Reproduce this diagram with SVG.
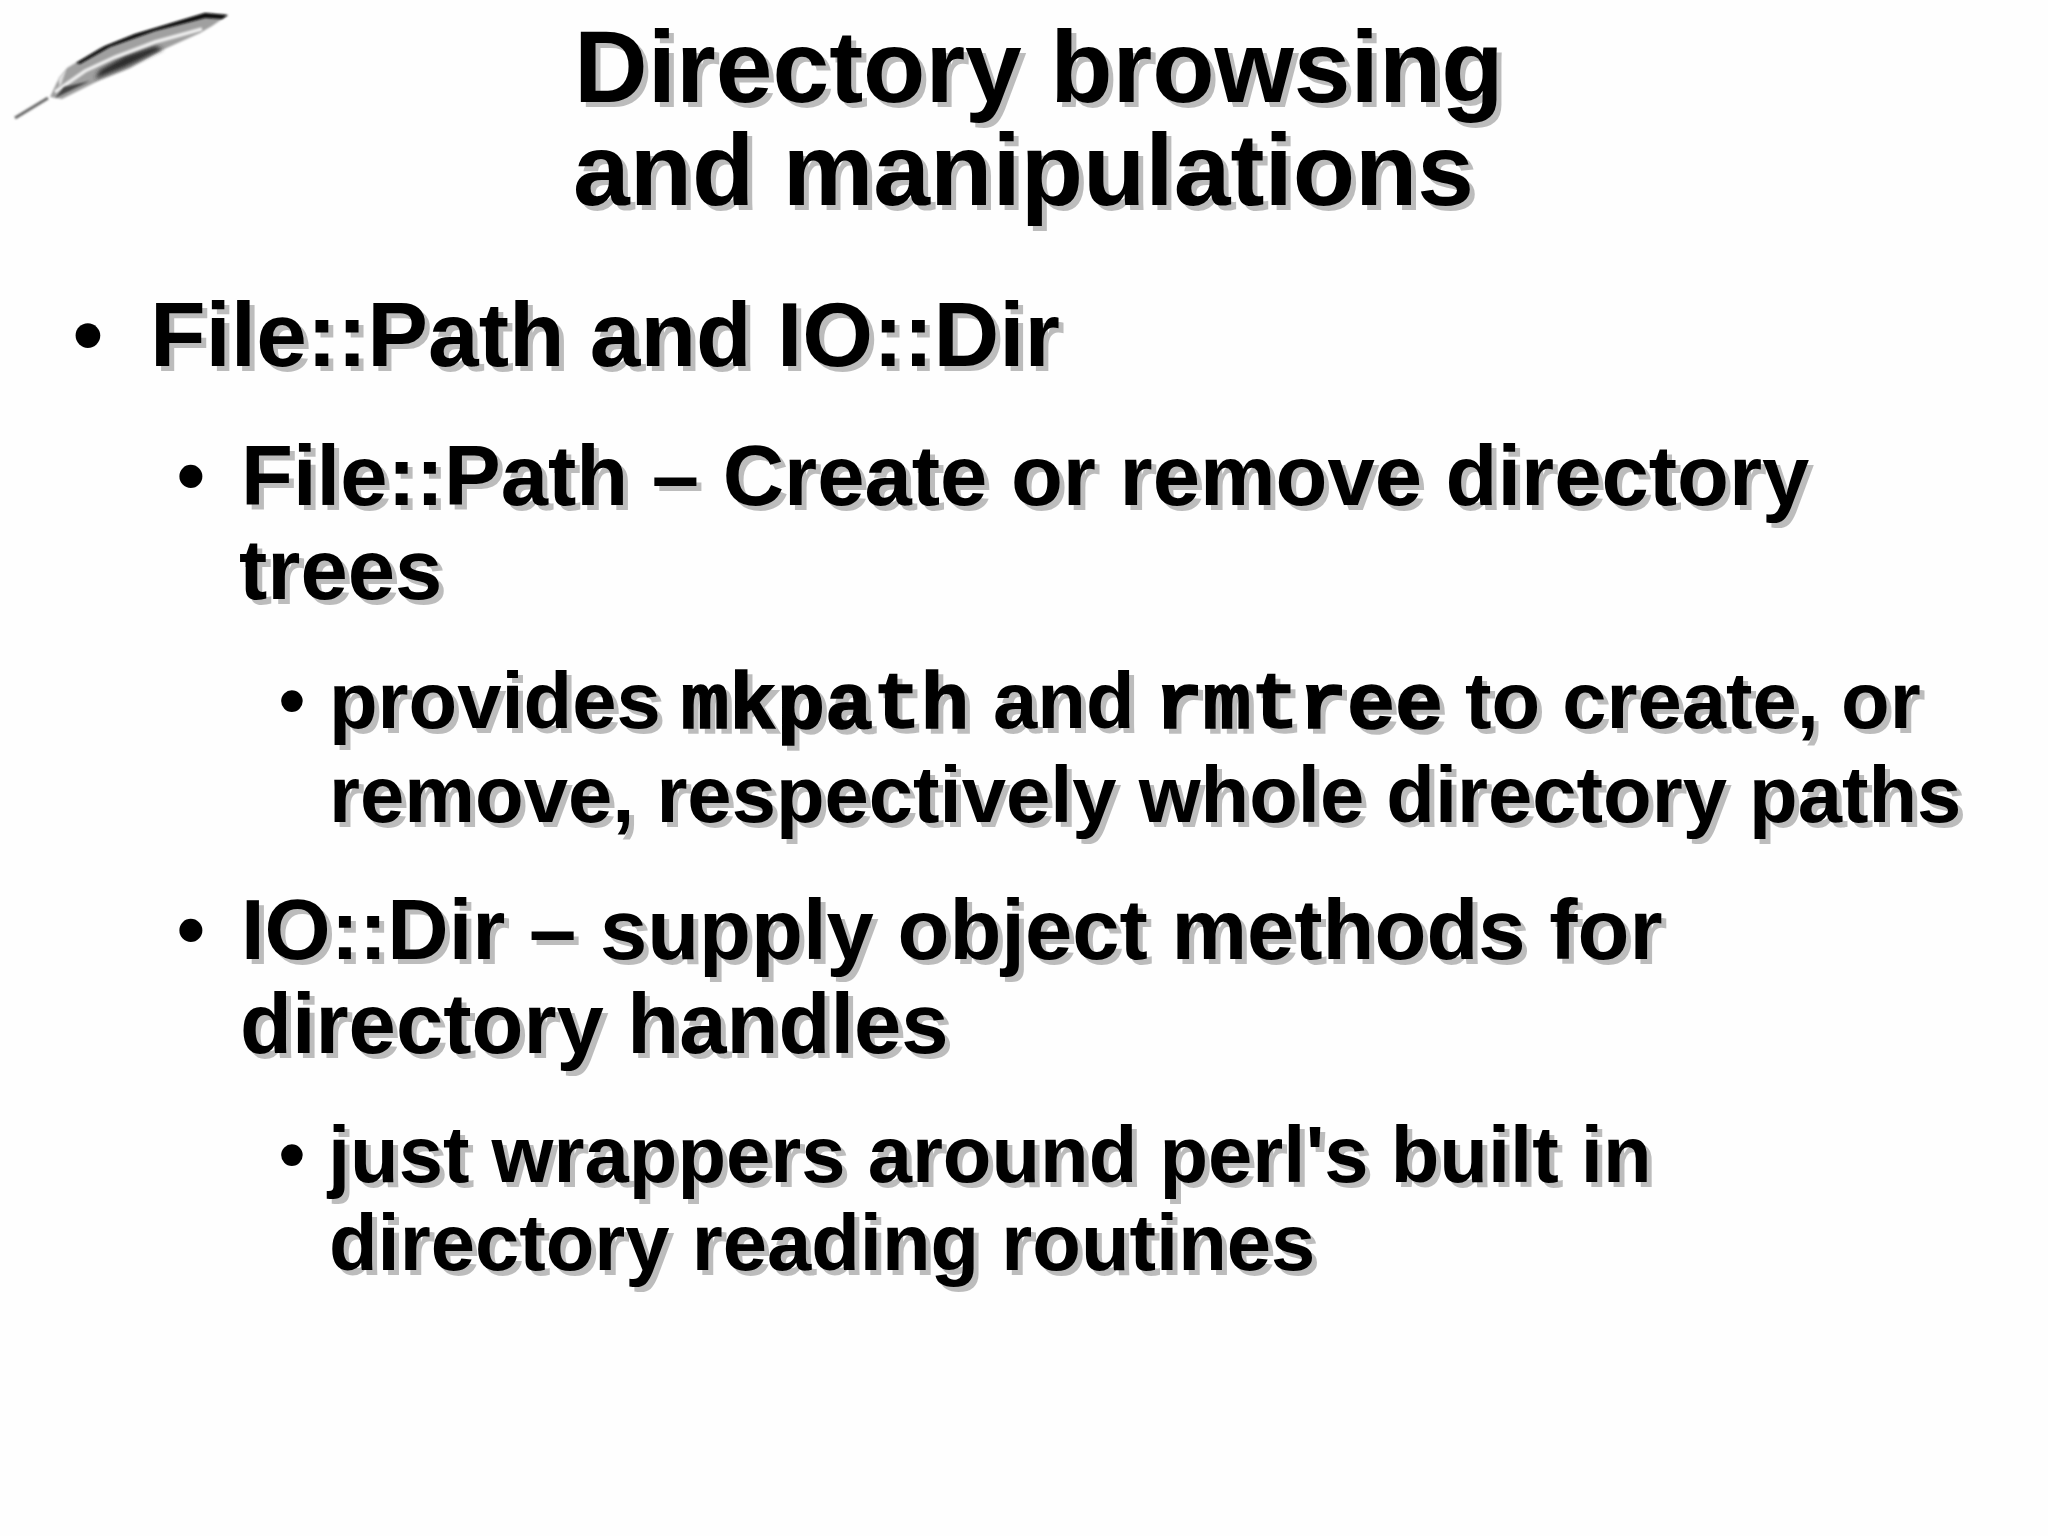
<svg xmlns="http://www.w3.org/2000/svg" width="2048" height="1536" viewBox="0 0 2048 1536">
<style>
text{font-family:"Liberation Sans",Arial,sans-serif;font-weight:bold;fill:#000}
.s{filter:url(#sh)}
.t{font-size:102px}.a{font-size:91px}.b{font-size:85px}.c{font-size:79.6px}
.m{font-family:"Liberation Mono","Courier New",monospace;font-size:80px;stroke:#000;stroke-width:1.5px}
.d{font-weight:normal}
</style>
<defs>
<filter id="sh" x="-5%" y="-20%" width="110%" height="140%" color-interpolation-filters="sRGB">
<feGaussianBlur in="SourceAlpha" stdDeviation="0.7" result="b"/>
<feOffset in="b" dx="5" dy="5" result="o"/>
<feFlood flood-color="#bcbcbc"/>
<feComposite in2="o" operator="in" result="g"/>
<feMerge><feMergeNode in="g"/><feMergeNode in="SourceGraphic"/></feMerge>
</filter>
<filter id="bl" x="-20%" y="-40%" width="140%" height="180%"><feGaussianBlur stdDeviation="1"/></filter>
<filter id="bl2" x="-20%" y="-40%" width="140%" height="180%"><feGaussianBlur stdDeviation="2"/></filter>
</defs>
<rect width="2048" height="1536" fill="#fefefe"/>
<g id="feather">
<path d="M15 118 L48 98" stroke="#666" stroke-width="3" fill="none" filter="url(#bl)"/>
<path d="M50 97 L57 82 L67 68 L100 48 L135 34 L205 13 L228 15 L212 26 L200 33 L160 51 L130 68 L100 80 L62 99Z" fill="#a0a0a0" filter="url(#bl)"/>
<path d="M76 63 L105 46 L135 34 L205 13 L228 15 L222 19 L205 18 L155 31 L110 47 L80 64Z" fill="#111" filter="url(#bl)"/>
<path d="M95 79 L125 67 L163 49 L155 46 L125 56 L100 70Z" fill="#2a2a2a" filter="url(#bl2)"/>
<path d="M55 92 L85 71 L115 57 L155 42 L202 29" stroke="#eeeeee" stroke-width="3.5" fill="none" filter="url(#bl)"/>
<path d="M55 98 L90 81 L64 87Z" fill="#444" filter="url(#bl)"/>
<path d="M58 78 L66 70 L60 88Z" fill="#ddd" filter="url(#bl)"/>
</g>
<g id="title">
<text class="t s" x="574" y="102">Directory browsing</text>
<text class="t s" x="573" y="205">and manipulations</text>
</g>
<g id="item-1">
<text class="a d" x="72" y="366">•</text>
<text class="a s" x="150" y="366">File::Path and IO::Dir</text>
</g>
<g id="item-1-1">
<text class="b d" x="176" y="505">•</text>
<text class="b s" x="241" y="505">File::Path – Create or remove directory</text>
<text class="b s" x="239" y="599">trees</text>
</g>
<g id="item-1-1-1">
<text class="c d" x="278" y="728">•</text>
<text class="c s" x="329" y="728">provides <tspan class="m" x="681">mkpath</tspan><tspan x="993">and</tspan> <tspan class="m" x="1155">rmtree</tspan><tspan x="1465">to create, or</tspan></text>
<text class="c s" x="329" y="822">remove, respectively whole directory paths</text>
</g>
<g id="item-1-2">
<text class="b d" x="176" y="959">•</text>
<text class="b s" x="241" y="959">IO::Dir – supply object methods for</text>
<text class="b s" x="240" y="1053">directory handles</text>
</g>
<g id="item-1-2-1">
<text class="c d" x="278" y="1182">•</text>
<text class="c s" x="328" y="1182">just wrappers around perl's built in</text>
<text class="c s" x="329" y="1270">directory reading routines</text>
</g>
</svg>
